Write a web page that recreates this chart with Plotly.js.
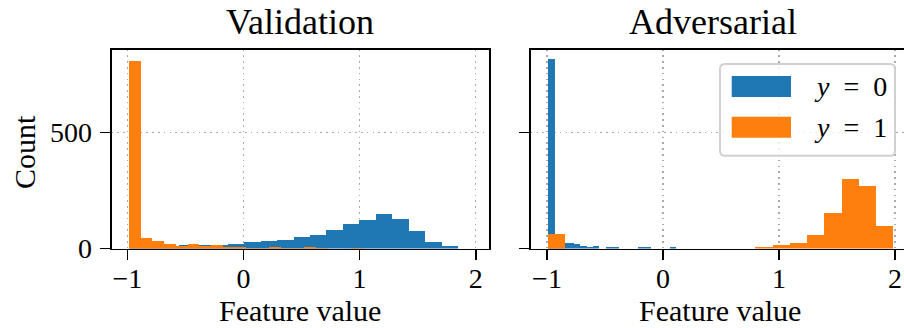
<!DOCTYPE html>
<html>
<head>
<meta charset="utf-8">
<script src="https://cdn.plot.ly/plotly-3.0.1.min.js"></script>
<style>
  html, body { margin: 0; padding: 0; background: #ffffff; }
  #chart { width: 904px; height: 328px; }
</style>
</head>
<body>
<div id="chart"></div>
<script>
// Histogram counts per bin (20 equal-width bins per series)
const valBlueRange = [-0.9845, 1.8475];
const valBlueCounts = [3, 5, 9, 14, 15, 16, 19, 28, 32, 37, 50, 58, 80, 106, 124, 149, 127, 77, 28, 11];

const valOrangeRange = [-0.986, 1.029];
const valOrangeCounts = [808, 47, 32, 19, 11, 19, 12, 15, 7, 7, 1, 2, 6, 1, 2, 6, 1, 0, 0, 1];

const advBlueRange = [-0.989, 0.1147];
const advBlueCounts = [817, 35, 24, 24, 19, 11, 6, 11, 0, 6, 6, 0, 0, 0, 6, 6, 0, 0, 0, 6];

const advOrangeRange = [-0.991, 1.986];
const advOrangeCounts = [62, 0, 0, 0, 0, 0, 0, 0, 0, 0, 0, 0, 6, 15, 24, 58, 154, 299, 269, 97];

const panelTitles = ["Validation", "Adversarial"];
const xLabel = "Feature value";
const yLabel = "Count";
const xTicks = [-1, 0, 1, 2];
const yTicks = [0, 500];
const legendLabels = ["<i>y</i>\u2002=\u20020", "<i>y</i>\u2002=\u20021"];

const BLUE = "#1f77b4";
const ORANGE = "#ff7f0e";
const FONT = "Liberation Serif, 'Times New Roman', serif";

const W = 904, H = 328;
const fx = p => p / W;            // pixel x -> paper x
const fy = p => (H - p) / H;      // pixel y -> paper y

function binTrace(range, counts, color, xa, ya) {
  const n = counts.length;
  const w = (range[1] - range[0]) / n;
  const x = counts.map((_, i) => range[0] + (i + 0.5) * w);
  return {
    type: "bar", x: x, y: counts, width: counts.map(() => w),
    marker: { color: color, line: { width: 0 } },
    xaxis: xa, yaxis: ya, showlegend: false, hoverinfo: "skip"
  };
}

const data = [
  binTrace(valBlueRange, valBlueCounts, BLUE, "x", "y"),
  binTrace(valOrangeRange, valOrangeCounts, ORANGE, "x", "y"),
  binTrace(advBlueRange, advBlueCounts, BLUE, "x2", "y2"),
  binTrace(advOrangeRange, advOrangeCounts, ORANGE, "x2", "y2")
];

const tickFont = { family: FONT, size: 28, color: "#000" };
const common = {
  ticks: "outside", ticklen: 10, tickwidth: 1.8, tickcolor: "#000",
  showline: true, linewidth: 1.8, linecolor: "#000",
  showgrid: true, gridcolor: "#aaaaaa", gridwidth: 1.5, griddash: "1.6px,4.2px",
  zeroline: false, tickfont: tickFont, fixedrange: true, automargin: false
};
const yDomain = [fy(248.5), fy(49.5)];

const layout = {
  width: W, height: H,
  margin: { l: 0, r: 0, t: 0, b: 0 },
  paper_bgcolor: "#fff", plot_bgcolor: "#fff",
  barmode: "overlay", bargap: 0,
  showlegend: false,
  font: { family: FONT, color: "#000" },
  xaxis: Object.assign({}, common, {
    domain: [fx(111.5), fx(489)], range: [-1.137, 2.115], anchor: "y",
    tickmode: "array", tickvals: xTicks, mirror: true, ticklabelstandoff: -6
  }),
  yaxis: Object.assign({}, common, {
    domain: yDomain, range: [0, 858], anchor: "x",
    tickmode: "array", tickvals: yTicks, mirror: true, ticklabelstandoff: 2
  }),
  xaxis2: Object.assign({}, common, {
    domain: [fx(530.7), 1], range: [-1.1405, 2.0776], anchor: "y2",
    tickmode: "array", tickvals: xTicks, mirror: true, ticklabelstandoff: -6
  }),
  yaxis2: Object.assign({}, common, {
    domain: yDomain, range: [0, 858], anchor: "x2",
    tickmode: "array", tickvals: yTicks, showticklabels: false, mirror: false
  }),
  shapes: [],
  annotations: []
};

// Titles and axis labels
const ann = (text, x, y, size, extra) => Object.assign({
  text: text, xref: "paper", yref: "paper", x: fx(x), y: fy(y),
  xanchor: "center", yanchor: "middle", showarrow: false,
  font: { family: FONT, size: size, color: "#000" }
}, extra || {});

layout.annotations.push(ann(panelTitles[0], 300.3, 22, 36));
layout.annotations.push(ann(panelTitles[1], 713, 22, 36));
layout.annotations.push(ann(xLabel, 300, 310, 30));
layout.annotations.push(ann(xLabel, 720, 310, 30));
layout.annotations.push(ann(yLabel, 24, 152, 30, { textangle: -90 }));

// Legend frame with rounded corners
function roundRect(x0, y0, x1, y1, r) {
  const X = fx, Y = fy;
  return "M" + X(x0 + r) + "," + Y(y0) +
    " L" + X(x1 - r) + "," + Y(y0) +
    " Q" + X(x1) + "," + Y(y0) + " " + X(x1) + "," + Y(y0 + r) +
    " L" + X(x1) + "," + Y(y1 - r) +
    " Q" + X(x1) + "," + Y(y1) + " " + X(x1 - r) + "," + Y(y1) +
    " L" + X(x0 + r) + "," + Y(y1) +
    " Q" + X(x0) + "," + Y(y1) + " " + X(x0) + "," + Y(y1 - r) +
    " L" + X(x0) + "," + Y(y0 + r) +
    " Q" + X(x0) + "," + Y(y0) + " " + X(x0 + r) + "," + Y(y0) + " Z";
}
layout.shapes.push({
  type: "path", xref: "paper", yref: "paper", layer: "above",
  path: roundRect(720, 64, 895, 155.7, 5),
  fillcolor: "rgba(255,255,255,0.8)",
  line: { color: "rgba(204,204,204,0.9)", width: 2 }
});
const legendColors = [BLUE, ORANGE];
const handleTops = [76, 116.7];
legendColors.forEach((c, i) => {
  layout.shapes.push({
    type: "rect", xref: "paper", yref: "paper", layer: "above",
    x0: fx(731.7), x1: fx(791), y0: fy(handleTops[i] + 21), y1: fy(handleTops[i]),
    fillcolor: c, line: { width: 0 }
  });
  layout.annotations.push(ann(legendLabels[i], 812, handleTops[i] + 10.5, 28, { xanchor: "left" }));
});

Plotly.newPlot("chart", data, layout, { staticPlot: true, displayModeBar: false });
</script>
</body>
</html>
